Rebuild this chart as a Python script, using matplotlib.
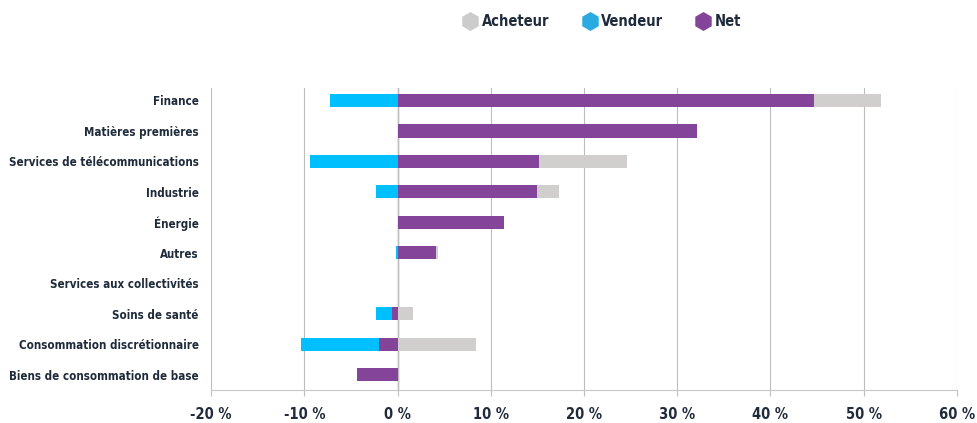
import numpy as np
import matplotlib.pyplot as plt
from matplotlib.lines import Line2D

categories = ['Finance', 'Matières premières', 'Services de télécommunications',
              'Industrie', 'Énergie', 'Autres', 'Services aux collectivités',
              'Soins de santé', 'Consommation discrétionnaire',
              'Biens de consommation de base']
acheteur = [51.9, 32.1, 24.6, 17.3, 11.4, 4.3, 0.0, 1.7, 8.4, 0.0]
vendeur = [-7.2, 0.0, -9.4, -2.3, 0.0, -0.2, 0.0, -2.3, -10.4, -4.3]
net = [44.7, 32.1, 15.2, 15.0, 11.4, 4.1, 0.0, -0.6, -2.0, -4.3]
xticks = [-20, -10, 0, 10, 20, 30, 40, 50, 60]

c_ach = '#d0cfcd'
c_ven = '#00bfff'
c_net = '#84449a'
txt = '#1f2b3a'
fnt = dict(family='DejaVu Sans', stretch='condensed', weight='bold')

fig = plt.figure(figsize=(9.77, 4.23), dpi=100)
ax = fig.add_axes([0.216, 0.078, 0.7635, 0.714])

y = np.arange(len(categories))
h = 0.43
ax.barh(y, acheteur, height=h, color=c_ach, zorder=2)
ax.barh(y, vendeur, height=h, color=c_ven, zorder=2)
ax.barh(y, net, height=h, color=c_net, zorder=3)

ax.set_ylim(len(categories) - 0.5, -0.41)
ax.set_xlim(-20, 60)
ax.set_yticks(y)
ax.set_yticklabels(categories, fontsize=8.3, color=txt, **fnt)
ax.tick_params(axis='y', length=0, pad=9)

ax.set_xticks(xticks)
ax.set_xticklabels([f'{t} %' for t in xticks], fontsize=10.5, color=txt, **fnt)
ax.tick_params(axis='x', length=4, color='#bfbfbf', pad=8)

ax.grid(axis='x', color='#bdbdbd', linewidth=0.8, zorder=0)
ax.axvline(0, color='#a0a0a0', linewidth=1, zorder=1)
for s in ['top', 'right', 'left']:
    ax.spines[s].set_visible(False)
ax.spines['bottom'].set_color('#c8c8c8')

handles = [Line2D([], [], marker='h', linestyle='none', markersize=12.5, color=c, label=l)
           for c, l in [('#cccccc', 'Acheteur'), ('#29abe2', 'Vendeur'), (c_net, 'Net')]]
fig.legend(handles=handles, loc='center', bbox_to_anchor=(0.616, 0.948), ncol=3,
           frameon=False, handlelength=1.1, handletextpad=0.25, columnspacing=2.2,
           prop=dict(size=10.5, **fnt), labelcolor=txt)

plt.savefig('out.png', dpi=100)
